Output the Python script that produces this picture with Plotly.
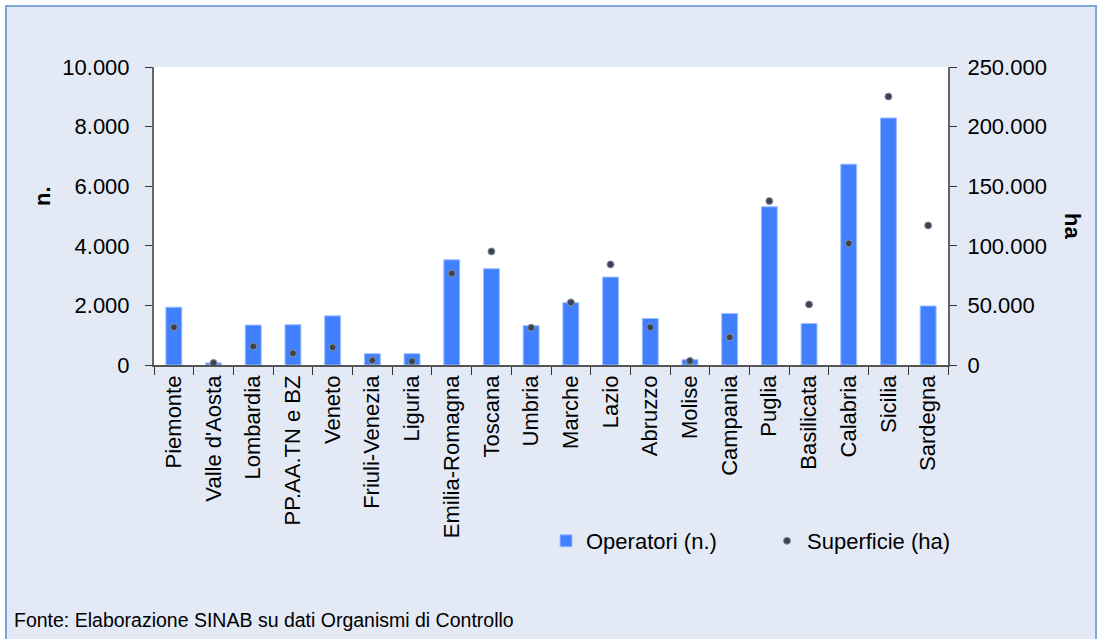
import plotly.graph_objects as go

regioni = ["Piemonte", "Valle d'Aosta", "Lombardia", "PP.AA.TN e BZ", "Veneto",
           "Friuli-Venezia", "Liguria", "Emilia-Romagna", "Toscana", "Umbria",
           "Marche", "Lazio", "Abruzzo", "Molise", "Campania", "Puglia",
           "Basilicata", "Calabria", "Sicilia", "Sardegna"]
operatori = [1940, 70, 1340, 1350, 1650, 380, 380, 3530, 3230, 1320,
             2090, 2950, 1560, 180, 1730, 5310, 1390, 6740, 8290, 1980]
superficie = [31600, 1700, 15600, 9800, 14800, 3900, 3100, 76800, 95300, 31300,
              52500, 84400, 31600, 3400, 23200, 137500, 50800, 102000, 225200, 117100]

# plot area in pixels: x 154..948, y 67..365
L, R, T, B = 154, 153, 67, 274
W, H = 1101, 639
pw, ph = W - L - R, H - T - B
px2x = lambda p: (p - L) / pw
py2y = lambda p: (H - B - p) / ph

base = dict(family="Liberation Sans, Arial, sans-serif", size=22, color="black")

fig = go.Figure()
fig.add_bar(x=regioni, y=operatori, name="Operatori (n.)", width=0.4,
            marker=dict(color="#4080FF", line=dict(color="#9BBEFF", width=1)))
fig.add_scatter(x=regioni, y=superficie, name="Superficie (ha)", mode="markers", yaxis="y2",
                marker=dict(color="#3A4352", size=7, line=dict(color="#8A93A3", width=1)))

fig.update_layout(
    width=W, height=H,
    margin=dict(l=L, r=R, t=T, b=B),
    paper_bgcolor="white", plot_bgcolor="white",
    separators=",.",
    font=base,
    showlegend=True,
    legend=dict(orientation="h", x=px2x(546), y=py2y(541), xanchor="left", yanchor="middle",
                bgcolor="rgba(0,0,0,0)", font=dict(size=22), entrywidth=176, entrywidthmode="pixels"),
    xaxis=dict(range=[-0.5, len(regioni) - 0.5], showgrid=False, showline=True,
               linecolor="#555555", linewidth=1.5,
               ticks="outside", ticklen=8, tickcolor="#333333", tickson="boundaries",
               tickangle=-90, tickfont=dict(size=22)),
    yaxis=dict(range=[0, 10000], tickvals=[0, 2000, 4000, 6000, 8000, 10000], tickformat=",d",
               showgrid=False, zeroline=False, showline=True, linecolor="#666666", linewidth=2,
               ticks="outside", ticklen=7, tickcolor="#333333", ticklabelstandoff=11),
    yaxis2=dict(range=[0, 250000], tickvals=[0, 50000, 100000, 150000, 200000, 250000], tickformat=",d",
                overlaying="y", side="right", showgrid=False, zeroline=False, showline=True,
                linecolor="#666666", linewidth=2, ticks="outside", ticklen=7, tickcolor="#333333",
                ticklabelstandoff=6),
)

# light blue framed background and white plot area
fig.add_shape(type="rect", xref="paper", yref="paper", layer="below",
              x0=px2x(6), x1=px2x(1096), y0=py2y(660), y1=py2y(6),
              fillcolor="#E3EAF6", line=dict(color="#7FA6DC", width=2))
fig.add_shape(type="rect", xref="paper", yref="paper", layer="below",
              x0=0, x1=1, y0=0, y1=1, fillcolor="white", line=dict(width=0))

fig.add_annotation(text="<b>n.</b>", xref="paper", yref="paper", x=px2x(42), y=py2y(196),
                   xanchor="center", yanchor="middle",
                   textangle=-90, showarrow=False, font=dict(size=22))
fig.add_annotation(text="<b>ha</b>", xref="paper", yref="paper", x=px2x(1073), y=py2y(226),
                   xanchor="center", yanchor="middle",
                   textangle=90, showarrow=False, font=dict(size=22))
fig.add_annotation(text="Fonte: Elaborazione SINAB su dati Organismi di Controllo",
                   xref="paper", yref="paper", x=px2x(12), y=py2y(620), xanchor="left",
                   yanchor="middle", showarrow=False,
                   font=dict(family="Liberation Sans Narrow, Arial Narrow, sans-serif", size=19.5))

# drop the default page margin so the figure sits at the window origin
fig.write_html("out.html", config={"displayModeBar": False},
               post_script="document.body.style.margin='0';")
